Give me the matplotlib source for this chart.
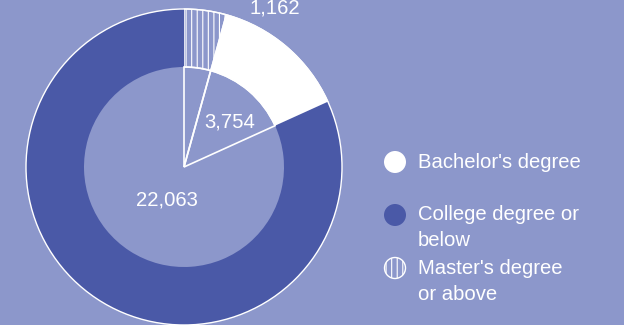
import matplotlib.pyplot as plt
from matplotlib.patches import Circle

# Education level breakdown (headcount)
labels = ["Master's degree\nor above", "Bachelor's degree", "College degree or\nbelow"]
values = [1162, 3754, 22063]
value_text = ["1,162", "3,754", "22,063"]

bg = '#8c97cb'
dark = '#4a59a7'

plt.rcParams['font.family'] = ['Liberation Sans', 'DejaVu Sans']
plt.rcParams['hatch.linewidth'] = 0.8
fs = 14.6

fig = plt.figure(figsize=(6.24, 3.25), dpi=100, facecolor=bg)
ax = fig.add_axes([0, 0, 1, 1])
ax.set_facecolor(bg)

cx, cy = 184, 158
r_out, r_in = 158, 100

# outer ring
wedges, _ = ax.pie(values, colors=[bg, 'white', dark], startangle=90, counterclock=False,
                   center=(cx, cy), radius=r_out,
                   wedgeprops=dict(width=r_out - r_in, edgecolor='white', linewidth=1))
wedges[0].set_hatch('|||')
wedges[2].set_edgecolor('none')
ax.add_patch(Circle((cx, cy), r_out, fill=False, ec='white', lw=1))

# spokes from the centre for the two small slices
inner, _ = ax.pie(values, startangle=90, counterclock=False, center=(cx, cy), radius=r_in,
                  wedgeprops=dict(fill=False, edgecolor='white', linewidth=1.2))
inner[2].set_edgecolor('none')

ax.set_xlim(0, 624)
ax.set_ylim(0, 325)
ax.set_aspect('equal')
ax.axis('off')

# value labels
txt = dict(color='white', fontsize=fs)
ax.text(275, 325 - 8, value_text[0], ha='center', va='center', **txt)
ax.text(230, 325 - 122, value_text[1], ha='center', va='center', **txt)
ax.text(167, 325 - 200, value_text[2], ha='center', va='center', **txt)

# legend
ax.add_patch(Circle((395, 325 - 162), 11, fc='white', ec='none'))
ax.text(418, 325 - 162, labels[1], va='center', **txt)
ax.add_patch(Circle((395, 325 - 215), 11, fc=dark, ec='none'))
ax.text(418, 325 - 215, "College degree or", va='center', **txt)
ax.text(418, 325 - 241, "below", va='center', **txt)
ax.add_patch(Circle((395, 325 - 268), 10.5, fc=bg, ec='white', lw=1, hatch='|||'))
ax.text(418, 325 - 268, "Master's degree", va='center', **txt)
ax.text(418, 325 - 295, "or above", va='center', **txt)

fig.savefig('out.png', dpi=100, facecolor=bg)
